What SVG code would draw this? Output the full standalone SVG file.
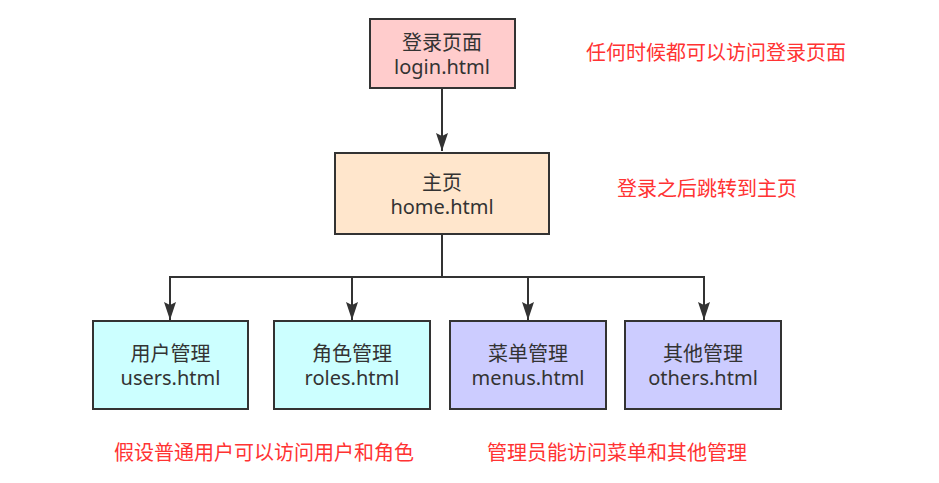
<svg xmlns="http://www.w3.org/2000/svg" width="939" height="483" viewBox="0 0 939 483">
<style>
.box{stroke:#333333;stroke-width:2}
.t{font-family:"Noto Sans","Noto Sans CJK SC",sans-serif;font-size:20px;fill:#333333;text-anchor:middle}
.note{font-family:"Noto Sans CJK SC","Noto Sans",sans-serif;font-size:20px;fill:#ff3333}
.edge{fill:none;stroke:#333333;stroke-width:2}
</style>
<defs>
<marker id="arr" markerUnits="userSpaceOnUse" markerWidth="14" markerHeight="20" viewBox="0 0 14 20" refX="7" refY="19" orient="auto-start-reverse">
<path d="M1 1 L7 4 L13 1 L7 19 Z" fill="#333333" transform="rotate(0)"/>
</marker>
<marker id="a2" markerUnits="userSpaceOnUse" markerWidth="20" markerHeight="14" viewBox="0 0 20 14" refX="19" refY="7" orient="auto">
<path d="M1 1 L19 7 L1 13 L4 7 Z" fill="#333333"/>
</marker>
</defs>
<g id="connectors">
<path class="edge" d="M442 88 V151" marker-end="url(#a2)"/>
<path class="edge" d="M442 234 V277 H170 V320" marker-end="url(#a2)"/>
<path class="edge" d="M442 234 V277 H352 V320" marker-end="url(#a2)"/>
<path class="edge" d="M442 234 V277 H528 V320" marker-end="url(#a2)"/>
<path class="edge" d="M442 234 V277 H704 V320" marker-end="url(#a2)"/>
</g>
<g id="login">
<rect class="box" x="370" y="19" width="145" height="69" fill="#ffcccc"/>
<text class="t" x="442" y="50">登录页面</text>
<text class="t" x="442" y="74">login.html</text>
</g>
<g id="home">
<rect class="box" x="335" y="153" width="214" height="81" fill="#ffe6cc"/>
<text class="t" x="442" y="190">主页</text>
<text class="t" x="442" y="214">home.html</text>
</g>
<g id="users">
<rect class="box" x="93" y="321" width="155" height="88" fill="#ccffff"/>
<text class="t" x="170.5" y="361">用户管理</text>
<text class="t" x="170.5" y="385">users.html</text>
</g>
<g id="roles">
<rect class="box" x="274" y="321" width="156" height="88" fill="#ccffff"/>
<text class="t" x="352" y="361">角色管理</text>
<text class="t" x="352" y="385">roles.html</text>
</g>
<g id="menus">
<rect class="box" x="450" y="321" width="156" height="88" fill="#ccccff"/>
<text class="t" x="528" y="361">菜单管理</text>
<text class="t" x="528" y="385">menus.html</text>
</g>
<g id="others">
<rect class="box" x="625" y="321" width="156" height="88" fill="#ccccff"/>
<text class="t" x="703" y="361">其他管理</text>
<text class="t" x="703" y="385">others.html</text>
</g>
<g id="notes">
<text class="note" x="586" y="60">任何时候都可以访问登录页面</text>
<text class="note" x="617" y="196">登录之后跳转到主页</text>
<text class="note" x="114" y="460">假设普通用户可以访问用户和角色</text>
<text class="note" x="487" y="460">管理员能访问菜单和其他管理</text>
</g>
</svg>
